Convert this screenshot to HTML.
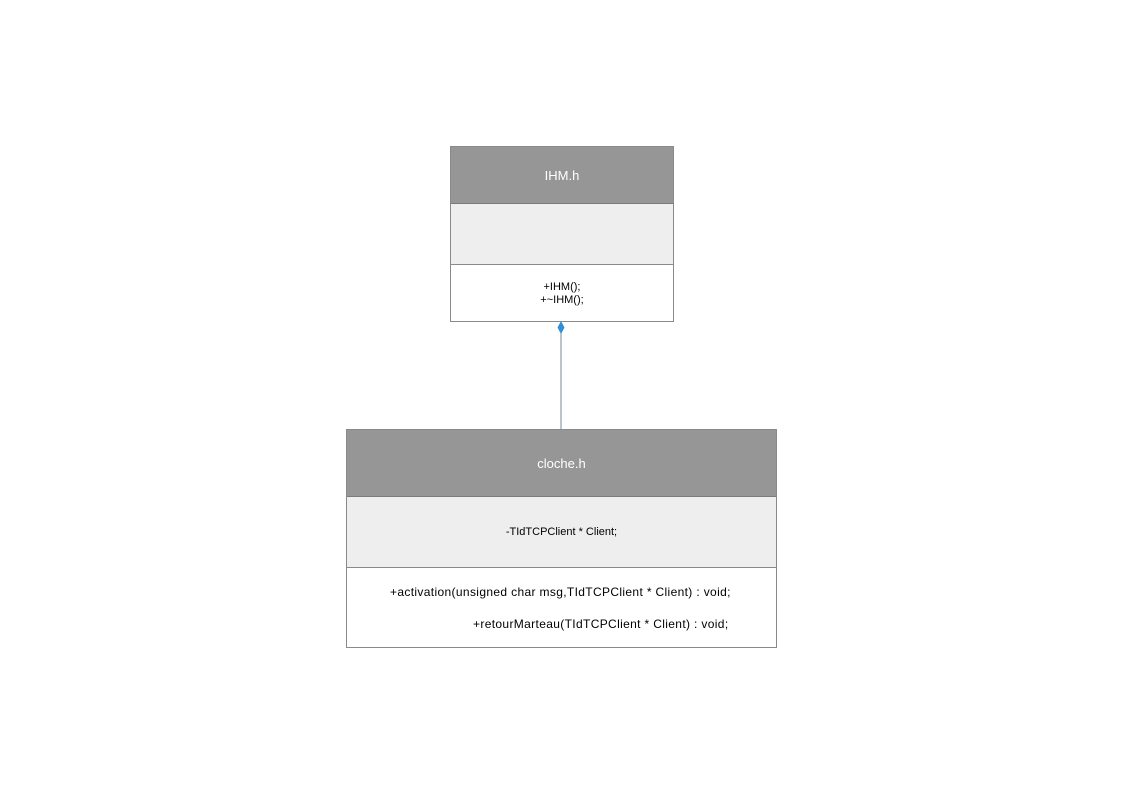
<!DOCTYPE html>
<html><head><style>
body{margin:0;width:1123px;height:794px;background:#fff;position:relative;font-family:"Liberation Sans",sans-serif;overflow:hidden}
.b{position:absolute;box-sizing:border-box;border:1px solid #8a8a8a}
.h{background:#969696;color:#fff;font-size:13px;display:flex;align-items:center;justify-content:center;border-bottom:1px solid #7a7a7a;box-sizing:border-box}
.a{background:#eeeeee;border-bottom:1px solid #8a8a8a;box-sizing:border-box;display:flex;align-items:center;justify-content:center;font-size:11px;color:#000}
.o{background:#fff;font-size:11px;color:#000;text-align:center}
</style></head><body>
<div class="b" style="left:450px;top:146px;width:224px;height:176px">
<div class="h" style="height:57px">IHM.h</div>
<div class="a" style="height:61px"></div>
<div class="o" style="padding-top:16px;line-height:13px">+IHM();<br>+~IHM();</div>
</div>
<svg style="position:absolute;left:0;top:0" width="1123" height="794">
<line x1="561" y1="330" x2="561" y2="429" stroke="#7a8794" stroke-width="1"/>
<polygon points="561,321 564.5,327.5 561,334 557.5,327.5" fill="#2f8fd8"/>
</svg>
<div class="b" style="left:346px;top:429px;width:431px;height:219px">
<div class="h" style="height:67px">cloche.h</div>
<div class="a" style="height:71px">-TIdTCPClient * Client;</div>
<div class="o" style="font-size:12px;position:relative;height:78px;letter-spacing:0.35px">
<div style="position:absolute;left:43px;top:17px;white-space:nowrap">+activation(unsigned char msg,TIdTCPClient * Client) : void;</div>
<div style="position:absolute;left:126px;top:49px;white-space:nowrap">+retourMarteau(TIdTCPClient * Client) : void;</div>
</div>
</div>
</body></html>
